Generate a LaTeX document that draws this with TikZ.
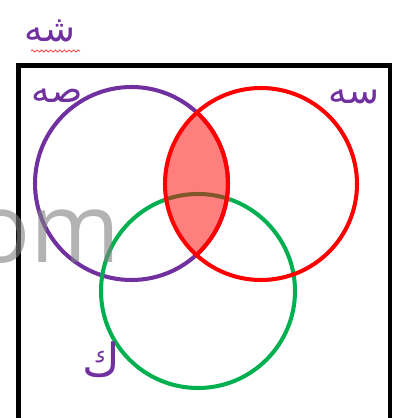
\documentclass[tikz,border=0pt]{standalone}
\usepackage{fontspec}
\usepackage{xcolor}
\usetikzlibrary{decorations.pathmorphing}
\TeXXeTstate=1
\newfontfamily\arabicfont[Script=Arabic]{DejaVu Sans}
\newfontfamily\markfont{Open Sans}
\definecolor{setpurple}{HTML}{7030A0}
\definecolor{setred}{HTML}{FF0000}
\definecolor{setgreen}{HTML}{00B050}
\definecolor{markgray}{HTML}{808080}
\tikzset{
  setline/.style={line width=2.3pt},
  frame/.style={draw=black,line width=2.8pt},
  setlabel/.style={text=setpurple,inner sep=0pt,
                   font=\arabicfont\fontsize{21}{24}\selectfont},
  squiggle/.style={draw=setred!70,line width=0.5pt,decorate,
                   decoration={snake,amplitude=0.6pt,segment length=2.6pt}},
  watermark/.style={text=markgray,text opacity=0.6,inner sep=0pt,
                    font=\markfont\fontsize{55}{60}\selectfont}
}

\begin{document}
\begin{tikzpicture}[x=1cm,y=1cm]
    \path[use as bounding box] (0,0) rectangle (7.9,8.36);
    \clip (0,0) rectangle (7.9,8.36);

    % universal set
    \draw[frame] (0.37,-0.5) -- (0.37,7.05) -- (7.8,7.05) -- (7.8,-0.5);

    % centres of the three sets
    \coordinate (cS) at (2.63,4.69);
    \coordinate (cR) at (5.22,4.68);
    \coordinate (cK) at (3.96,2.54);

    \draw[setline,draw=setpurple] (cS) circle[radius=1.93cm];
    \draw[setline,draw=setgreen] (cK) circle[radius=1.94cm];
    \draw[setline,draw=setred] (cR) circle[radius=1.92cm];

    % shaded intersection
    \begin{scope}
      \clip (cS) circle[radius=1.93cm];
      \fill[setred,opacity=0.5] (cR) circle[radius=1.92cm];
    \end{scope}
    \begin{scope}
      \clip (cR) circle[radius=1.92cm];
      \draw[setline,draw=setred] (cS) circle[radius=1.93cm];
    \end{scope}

    % labels
    \node[setlabel] (lblU) at (1.0,7.74) {\beginR شه\endR};
    \coordinate (sqA) at (0.62,7.34);
    \coordinate (sqB) at (1.6,7.34);
    \draw[squiggle] (sqA) -- (sqB);
    \node[setlabel] (lblS) at (1.14,6.44) {\beginR صه\endR};
    \node[setlabel] (lblR) at (7.08,6.42) {\beginR سه\endR};
    \node[setlabel,font=\arabicfont\fontsize{26}{28}\selectfont]
      (lblK) at (2.02,1.16) {\beginR ك\endR};

    \node[watermark,anchor=base east] (mark) at (2.42,3.12) {om};
  \end{tikzpicture}
\end{document}
